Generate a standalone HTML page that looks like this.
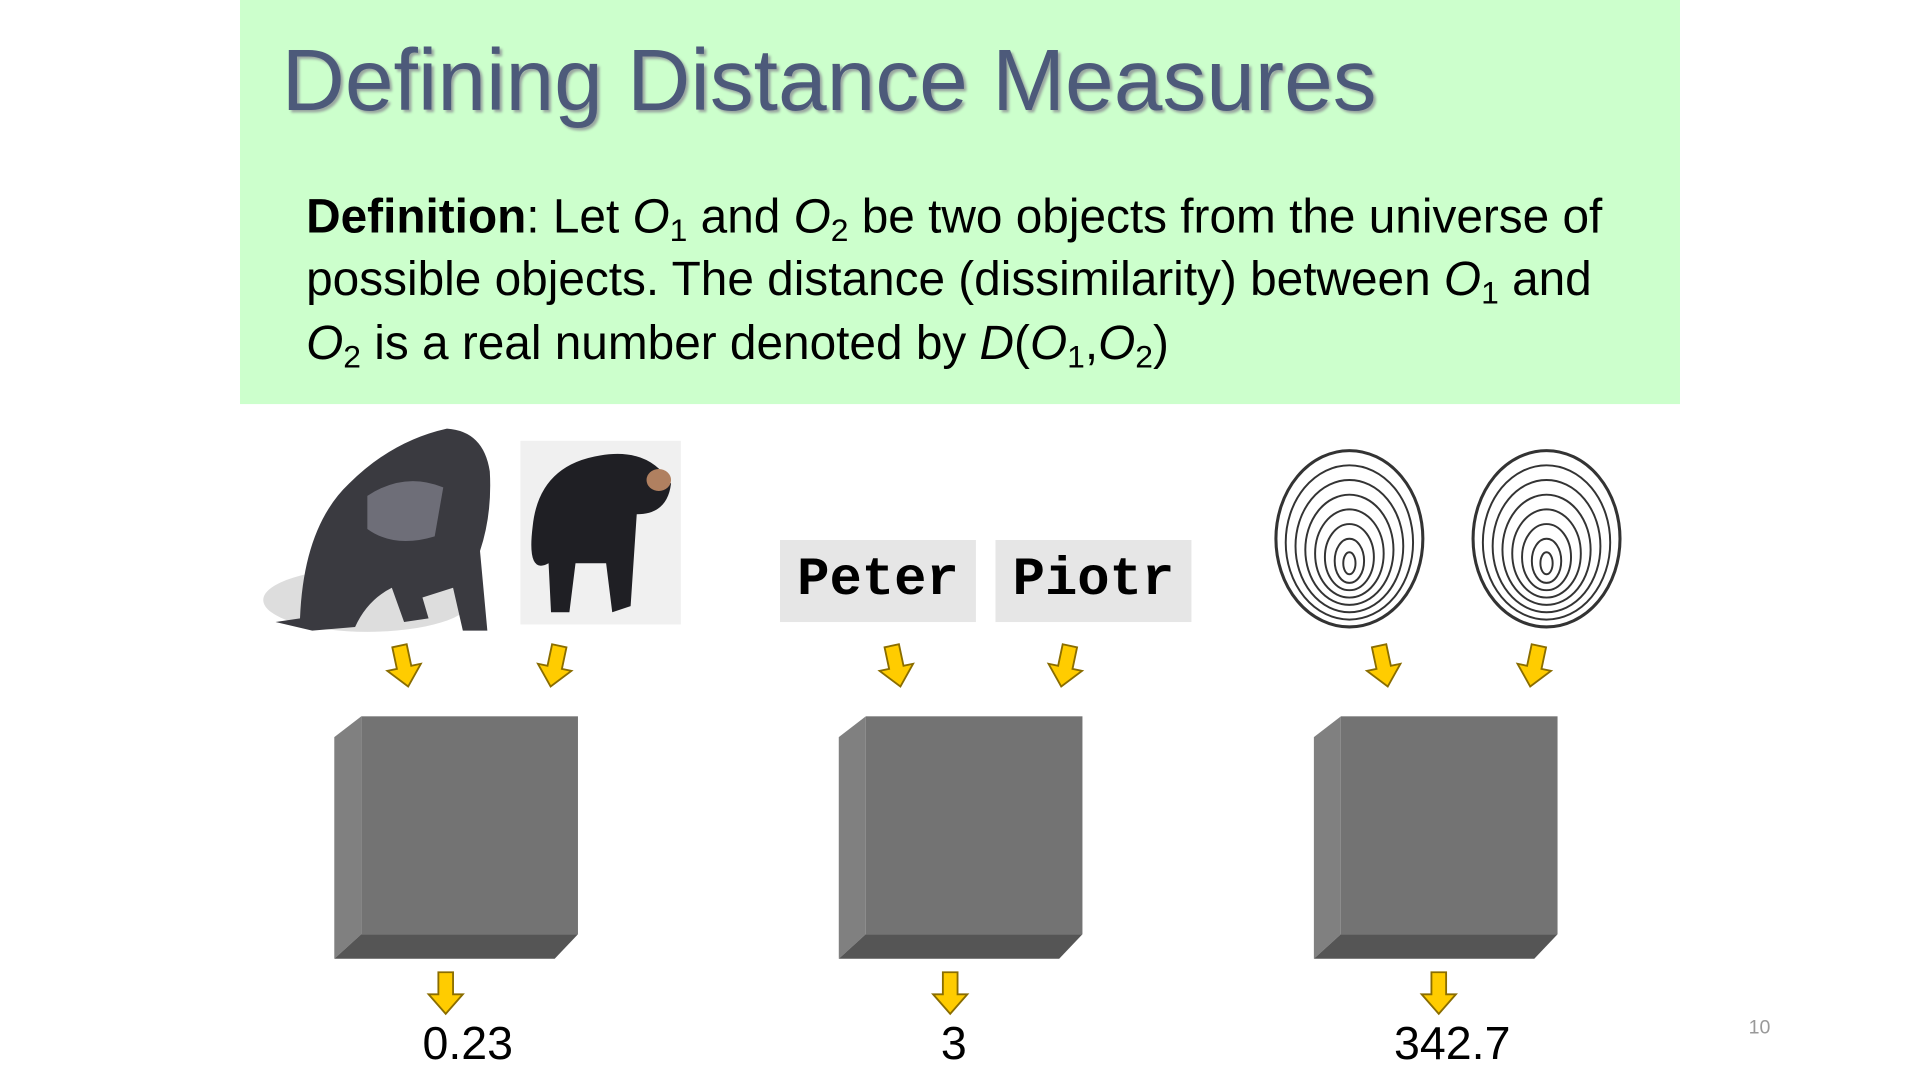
<!DOCTYPE html>
<html><head><meta charset="utf-8"><style>
html,body{margin:0;padding:0;background:#fff;width:1920px;height:1080px;overflow:hidden}
#s{position:absolute;left:0;top:0;width:1568px;height:882px;transform:scale(1.22449);transform-origin:0 0;font-family:"Liberation Sans",sans-serif}
.abs{position:absolute}
.def{position:absolute;left:250px;font-size:39px;color:#000;white-space:nowrap}
.def sub{font-size:26px;vertical-align:-7px;line-height:0}
.name{position:absolute;top:441px;width:160px;height:67px;background:#e6e6e6;font-family:"Liberation Mono",monospace;font-weight:bold;font-size:44px;text-align:center;line-height:67px}
.num{position:absolute;top:832px;font-size:38px;width:200px;text-align:center}
</style></head><body>
<div id="s">
<div class="abs" style="left:196px;top:0;width:1176px;height:330px;background:#ccffcc"></div>
<div class="abs" style="left:230px;top:25px;font-size:71.5px;color:#4d5a7a;text-shadow:2px 2px 2px #9aa7a0;white-space:nowrap">Defining Distance Measures</div>
<div class="def" style="top:156px"><b>Definition</b>: Let <i>O</i><sub>1</sub> and <i>O</i><sub>2</sub> be two objects from the universe of</div>
<div class="def" style="top:207px">possible objects. The distance (dissimilarity) between <i>O</i><sub>1</sub> and</div>
<div class="def" style="top:259px"><i>O</i><sub>2</sub> is a real number denoted by <i>D</i>(<i>O</i><sub>1</sub>,<i>O</i><sub>2</sub>)</div>

<svg class="abs" style="left:0;top:0" width="1568" height="882">
<defs><g id="arr"><polygon points="-6,-18 6,-18 6,0 14,0 0,16 -14,0 -6,0" fill="#ffcc00" stroke="#8a6d00" stroke-width="1.5"/></g>
<g id="box"><polygon points="0,17 22,0 22,178 0,198" fill="#808080"/><rect x="22" y="0" width="177" height="178" fill="#737373"/><polygon points="0,198 22,178 199,178 180,198" fill="#555"/></g>
<g id="fp" fill="none" stroke="#333" stroke-width="1.6"><ellipse cx="0" cy="0" rx="60" ry="72" stroke-width="2.5"/><ellipse cx="0" cy="3" rx="52" ry="63"/><ellipse cx="0" cy="6" rx="44" ry="54"/><ellipse cx="0" cy="9" rx="36" ry="45"/><ellipse cx="0" cy="12" rx="28" ry="36"/><ellipse cx="0" cy="15" rx="20" ry="27"/><ellipse cx="0" cy="18" rx="12" ry="18"/><ellipse cx="0" cy="20" rx="5" ry="9"/></g></defs>
<g><ellipse cx="300" cy="490" rx="85" ry="26" fill="#ddd"/><path d="M245,505 Q248,430 285,395 Q320,360 365,350 Q395,352 400,385 Q402,420 392,450 L398,515 L378,515 L370,480 L345,488 L350,505 L330,508 L320,480 Q300,490 290,512 L255,515 L225,508 Z" fill="#3a3a40"/><path d="M300,405 Q330,385 362,398 L355,438 Q322,448 300,432Z" fill="#6e6e78"/></g>
<g><rect x="425" y="360" width="131" height="150" fill="#f0f0f0"/><path d="M435,430 Q440,380 490,372 Q530,365 548,395 Q545,420 520,420 L515,495 L500,500 L495,460 L470,460 L465,500 L450,500 L448,460 Q430,470 435,430Z" fill="#1f1f24"/><ellipse cx="538" cy="392" rx="10" ry="9" fill="#b08060"/></g>
<g><use href="#fp" transform="translate(1102,440)"/></g>
<g><use href="#fp" transform="translate(1263,440)"/></g>
<g><use href="#arr" transform="translate(330,545) rotate(-12)"/><use href="#arr" transform="translate(453,545) rotate(12)"/><use href="#arr" transform="translate(732,545) rotate(-12)"/><use href="#arr" transform="translate(870,545) rotate(12)"/><use href="#arr" transform="translate(1130,545) rotate(-12)"/><use href="#arr" transform="translate(1253,545) rotate(12)"/></g>
<g><use href="#box" transform="translate(273,585)"/><use href="#box" transform="translate(685,585)"/><use href="#box" transform="translate(1073,585)"/></g>
<g><use href="#arr" transform="translate(364,812)"/><use href="#arr" transform="translate(776,812)"/><use href="#arr" transform="translate(1175,812)"/></g>
</svg>

<div class="name" style="left:637px">Peter</div>
<div class="name" style="left:813px">Piotr</div>
<div class="num" style="left:282px">0.23</div>
<div class="num" style="left:679px">3</div>
<div class="num" style="left:1086px">342.7</div>
<div class="abs" style="left:1428px;top:831px;font-size:16px;color:#999">10</div>
</div>
</body></html>
